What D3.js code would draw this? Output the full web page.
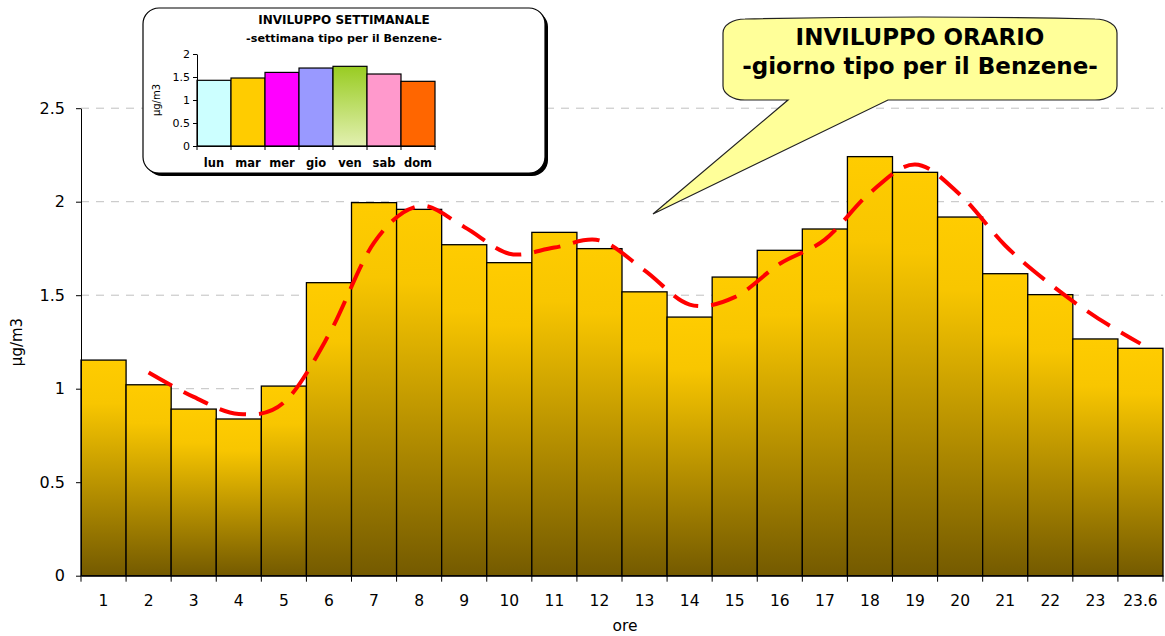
<!DOCTYPE html>
<html>
<head>
<meta charset="utf-8">
<script src="https://cdn.jsdelivr.net/npm/d3@7"></script>
<style>
  body { margin: 0; background: #fff; }
  svg { display: block; font-family: "DejaVu Sans", sans-serif; }
</style>
</head>
<body>
<div id="container"></div>
<script>
// hourly profile (main chart)
const hours = ["1","2","3","4","5","6","7","8","9","10","11","12","13","14","15","16","17","18","19","20","21","22","23","23.6"];
const hourValues = [1.153, 1.021, 0.891, 0.838, 1.014, 1.567, 1.995, 1.959, 1.770, 1.674, 1.836, 1.749,
                    1.518, 1.383, 1.597, 1.740, 1.854, 2.241, 2.157, 1.918, 1.615, 1.503, 1.266, 1.216];
// red dashed trend (starts at hour 2)
const trendHours = ["2","3","4","5","6","7","8","9","10","11","12","13","14","15","16","17","18","19","20","21","22","23","23.6"];
const trendValues = [1.087, 0.956, 0.865, 0.926, 1.290, 1.781, 1.977, 1.865, 1.722, 1.755, 1.793, 1.633,
                     1.450, 1.490, 1.668, 1.797, 2.047, 2.199, 2.037, 1.766, 1.559, 1.385, 1.241];
const yTicks = [0, 0.5, 1, 1.5, 2, 2.5];

// weekly profile (inset)
const days = ["lun","mar","mer","gio","ven","sab","dom"];
const dayValues = [1.428, 1.478, 1.600, 1.695, 1.732, 1.565, 1.406];
const dayColors = ["#CCFFFF", "#FFCC00", "#FF00FF", "#9999FF", "url(#venGrad)", "#FF99CC", "#FF6600"];
const insetTicks = [0, 0.5, 1, 1.5, 2];

const W = 1165, H = 636;
const svg = d3.select("#container").append("svg")
  .attr("width", W).attr("height", H);

const defs = svg.append("defs");
const barGrad = defs.append("linearGradient")
  .attr("id", "barGrad").attr("x1", 0).attr("y1", 0).attr("x2", 0).attr("y2", 1);
barGrad.append("stop").attr("offset", "0").attr("stop-color", "#FFCC00");
barGrad.append("stop").attr("offset", "0.2").attr("stop-color", "#F8C600");
barGrad.append("stop").attr("offset", "1").attr("stop-color", "#745A00");

const venGrad = defs.append("linearGradient")
  .attr("id", "venGrad").attr("x1", 0).attr("y1", 0).attr("x2", 0).attr("y2", 1);
venGrad.append("stop").attr("offset", "0").attr("stop-color", "#99CC22");
venGrad.append("stop").attr("offset", "1").attr("stop-color", "#E2F0B0");

// ---- main chart ----
const x = d3.scaleBand().domain(hours).range([81, 1163]).padding(0);
const y = d3.scaleLinear().domain([0, 2.5]).range([575.7, 108.2]);

// gridlines
svg.append("g")
  .selectAll("line")
  .data(yTicks.filter(d => d > 0))
  .join("line")
  .attr("x1", 81).attr("x2", 1163)
  .attr("y1", d => y(d)).attr("y2", d => y(d))
  .attr("stroke", "#c0c0c0")
  .attr("stroke-dasharray", "8,7");

// bars
svg.append("g")
  .selectAll("rect")
  .data(hours)
  .join("rect")
  .attr("x", d => x(d))
  .attr("y", (d, i) => y(hourValues[i]))
  .attr("width", x.bandwidth())
  .attr("height", (d, i) => y(0) - y(hourValues[i]))
  .attr("fill", "url(#barGrad)")
  .attr("stroke", "#000")
  .attr("stroke-width", 1.3);

// trend line
const line = d3.line()
  .x(d => x(d.h) + x.bandwidth() / 2)
  .y(d => y(d.v))
  .curve(d3.curveCardinal.tension(0));

svg.append("path")
  .datum(trendHours.map((h, i) => ({h, v: trendValues[i]})))
  .attr("d", line)
  .attr("fill", "none")
  .attr("stroke", "#FF0000")
  .attr("stroke-width", 4)
  .attr("stroke-dasharray", "27,13");

// y axis
const yAxis = svg.append("g")
  .attr("transform", "translate(81,0)")
  .call(d3.axisLeft(y).tickValues(yTicks).tickFormat(d => String(d)).tickSize(5).tickSizeOuter(0));
yAxis.select(".domain").attr("stroke", "#000");
yAxis.selectAll(".tick line").attr("stroke", "#000");
yAxis.selectAll("text")
  .attr("x", -16)
  .style("font-size", "16px")
  .style("font-family", "DejaVu Sans, sans-serif")
  .attr("fill", "#000");

// x axis
const xAxis = svg.append("g")
  .attr("transform", `translate(0,${y(0)})`)
  .call(d3.axisBottom(x).tickSize(0).tickSizeOuter(0));
xAxis.select(".domain").attr("stroke", "#000");
xAxis.selectAll("text")
  .attr("y", 19)
  .attr("dy", "0.71em")
  .style("font-size", "15.5px")
  .style("font-family", "DejaVu Sans, sans-serif")
  .attr("fill", "#000");
// category boundary ticks
xAxis.append("g")
  .selectAll("line")
  .data(hours.concat(["end"]))
  .join("line")
  .attr("x1", (d, i) => i < hours.length ? x(d) : x(hours[hours.length - 1]) + x.bandwidth())
  .attr("x2", (d, i) => i < hours.length ? x(d) : x(hours[hours.length - 1]) + x.bandwidth())
  .attr("y1", 0).attr("y2", 6)
  .attr("stroke", "#000");

svg.append("text")
  .attr("x", 625).attr("y", 631)
  .attr("text-anchor", "middle")
  .style("font-size", "15.5px")
  .text("ore");

svg.append("text")
  .attr("transform", "translate(22,342) rotate(-90)")
  .attr("text-anchor", "middle")
  .style("font-size", "15px")
  .text("µg/m3");

// ---- callout ----
const co = {l: 723, r: 1117, t: 19, b: 100, rx: 22, ry: 14, p1: 788, p2: 888, tx: 653, ty: 214};
const calloutPath = `M${co.l + co.rx},${co.t}
  Q${(co.l + co.r) / 2},${co.t - 4} ${co.r - co.rx},${co.t}
  A${co.rx},${co.ry} 0 0 1 ${co.r},${co.t + co.ry}
  L${co.r},${co.b - co.ry}
  A${co.rx},${co.ry} 0 0 1 ${co.r - co.rx},${co.b}
  L${co.p2},${co.b}
  L${co.tx},${co.ty}
  L${co.p1},${co.b}
  L${co.l + co.rx},${co.b}
  A${co.rx},${co.ry} 0 0 1 ${co.l},${co.b - co.ry}
  L${co.l},${co.t + co.ry}
  A${co.rx},${co.ry} 0 0 1 ${co.l + co.rx},${co.t} Z`;
svg.append("path")
  .attr("d", calloutPath)
  .attr("fill", "#FFFF99")
  .attr("stroke", "#222")
  .attr("stroke-width", 1.2);
svg.append("text")
  .attr("x", 920).attr("y", 45)
  .attr("text-anchor", "middle")
  .style("font-size", "23px").style("font-weight", "bold")
  .text("INVILUPPO ORARIO");
svg.append("text")
  .attr("x", 920).attr("y", 74)
  .attr("text-anchor", "middle")
  .style("font-size", "23px").style("font-weight", "bold")
  .text("-giorno tipo per il Benzene-");

// ---- inset ----
const inset = svg.append("g");
inset.append("rect")
  .attr("x", 146).attr("y", 11).attr("width", 402).attr("height", 165)
  .attr("rx", 16).attr("fill", "#000");
inset.append("rect")
  .attr("x", 143).attr("y", 8).attr("width", 402).attr("height", 165)
  .attr("rx", 16).attr("fill", "#fff").attr("stroke", "#000").attr("stroke-width", 1.2);

inset.append("text")
  .attr("x", 344).attr("y", 24)
  .attr("text-anchor", "middle")
  .style("font-size", "12px").style("font-weight", "bold")
  .text("INVILUPPO SETTIMANALE");
inset.append("text")
  .attr("x", 344).attr("y", 42)
  .attr("text-anchor", "middle")
  .style("font-size", "11.2px").style("font-weight", "bold")
  .text("-settimana tipo per il Benzene-");

const ix = d3.scaleBand().domain(days).range([197, 435]).padding(0);
const iy = d3.scaleLinear().domain([0, 2]).range([146, 54]);

inset.append("g")
  .selectAll("rect")
  .data(days)
  .join("rect")
  .attr("x", d => ix(d))
  .attr("y", (d, i) => iy(dayValues[i]))
  .attr("width", ix.bandwidth())
  .attr("height", (d, i) => iy(0) - iy(dayValues[i]))
  .attr("fill", (d, i) => dayColors[i])
  .attr("stroke", "#000")
  .attr("stroke-width", 1.2);

const iyAxis = inset.append("g")
  .attr("transform", "translate(197,0)")
  .call(d3.axisLeft(iy).tickValues(insetTicks).tickFormat(d => String(d)).tickSize(4).tickSizeOuter(0));
iyAxis.selectAll("text")
  .attr("x", -7)
  .style("font-size", "11px")
  .style("font-family", "DejaVu Sans, sans-serif")
  .attr("fill", "#000");
iyAxis.selectAll("line, path").attr("stroke", "#000");

const ixAxis = inset.append("g")
  .attr("transform", `translate(0,${iy(0)})`)
  .call(d3.axisBottom(ix).tickSize(0).tickSizeOuter(0));
ixAxis.select(".domain").attr("stroke", "#000");
ixAxis.selectAll("text")
  .attr("y", 13)
  .attr("dy", "0.71em")
  .style("font-size", "11.5px").style("font-weight", "bold")
  .style("font-family", "DejaVu Sans, sans-serif")
  .attr("fill", "#000");
ixAxis.append("g")
  .selectAll("line")
  .data(days.concat(["end"]))
  .join("line")
  .attr("x1", (d, i) => i < days.length ? ix(d) : ix(days[days.length - 1]) + ix.bandwidth())
  .attr("x2", (d, i) => i < days.length ? ix(d) : ix(days[days.length - 1]) + ix.bandwidth())
  .attr("y1", 0).attr("y2", 4)
  .attr("stroke", "#000");

inset.append("text")
  .attr("transform", "translate(160,100) rotate(-90)")
  .attr("text-anchor", "middle")
  .style("font-size", "10px")
  .text("µg/m3");
</script>
</body>
</html>
